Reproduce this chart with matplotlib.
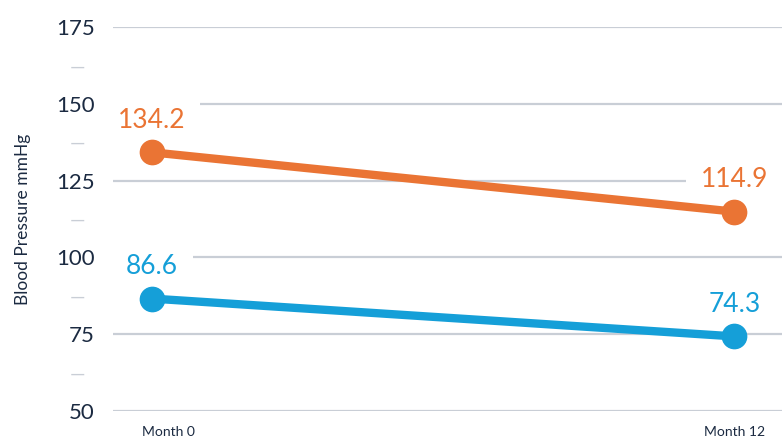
import matplotlib.pyplot as plt
from matplotlib.transforms import ScaledTranslation

# ------------------------------------------------------------
# Data
# ------------------------------------------------------------
months = ["Month 0", "Month 12"]
systolic = [134.2, 114.9]
diastolic = [86.6, 74.3]

major_ticks = [50, 75, 100, 125, 150, 175]
minor_ticks = [62.5, 87.5, 112.5, 137.5, 162.5]

orange = "#EA7434"
blue = "#159FD8"
navy = "#1B2A41"
grid_grey = "#C9CED6"

plt.rcParams["font.family"] = ["Lato", "DejaVu Sans"]

# ------------------------------------------------------------
# Plot
# ------------------------------------------------------------
fig = plt.figure(figsize=(7.82, 4.42), dpi=100)
ax = fig.add_axes([0.1445, 0.070, 0.8555, 0.869])

x = list(range(len(months)))

for values, color in [(systolic, orange), (diastolic, blue)]:
    ax.plot(x, values, color=color, linewidth=6, marker="o",
            markersize=17.5, solid_capstyle="round", zorder=3)
    for xi, v in zip(x, values):
        ax.annotate(f"{v:.1f}", (xi, v), xytext=(0, 23),
                    textcoords="offset points", ha="center", va="center",
                    fontsize=19, color=color, zorder=2,
                    bbox=dict(boxstyle="square,pad=0.55", fc="white", ec="none"))

ax.set_xlim(-0.067, 1.082)
ax.set_ylim(50, 175)

ax.set_yticks(major_ticks)
ax.set_yticklabels([str(t) for t in major_ticks], fontsize=16, color=navy)
ax.set_yticks(minor_ticks, minor=True)
ax.set_yticklabels(["\u2014"] * len(minor_ticks), minor=True,
                   fontsize=14, color=grid_grey)
ax.tick_params(axis="y", which="major", length=0, pad=13)
ax.tick_params(axis="y", which="minor", length=0, pad=20)

ax.set_xticks(x)
ax.set_xticklabels(months, fontsize=10, color=navy)
ax.tick_params(axis="x", length=0, pad=11)
# first category label sits a little right of its point in the original
first = ax.get_xticklabels()[0]
first.set_transform(first.get_transform() + ScaledTranslation(0.16, 0, fig.dpi_scale_trans))

ax.set_ylabel("Blood Pressure mmHg", fontsize=12.5, color=navy)
ax.yaxis.set_label_coords(-0.122, 0.5)

ax.grid(axis="y", which="major", color=grid_grey, linewidth=1.6)
ax.set_axisbelow(True)
for s in ax.spines.values():
    s.set_visible(False)

plt.savefig("out.png", dpi=100)
